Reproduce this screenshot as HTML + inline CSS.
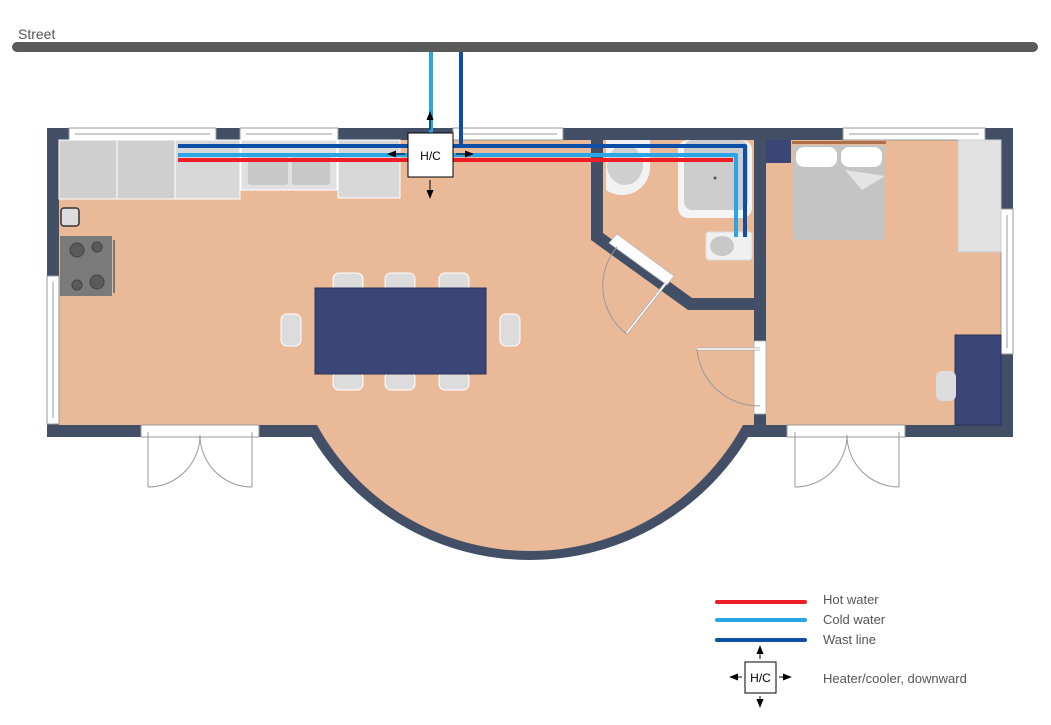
<!DOCTYPE html>
<html><head><meta charset="utf-8"><style>
html,body{margin:0;padding:0;background:#fff;width:1051px;height:725px;overflow:hidden}
text{font-family:"Liberation Sans",sans-serif}
</style></head><body>
<svg width="1051" height="725" viewBox="0 0 1051 725" xmlns="http://www.w3.org/2000/svg">
<defs>
<marker id="ah" viewBox="0 0 10 10" refX="9" refY="5" markerWidth="9" markerHeight="9" markerUnits="userSpaceOnUse" orient="auto"><path d="M0,1 L10,5 L0,9 z" fill="#000"/></marker>
</defs>
<text x="18" y="39" font-size="14" fill="#555">Street</text>
<line x1="17" y1="47" x2="1033" y2="47" stroke="#5a5a5a" stroke-width="10" stroke-linecap="round"/>
<rect x="47" y="128" width="966" height="309" fill="#424f66"/>
<path d="M305,425 A255,255 0 0 0 755,425 Z" fill="#424f66"/>
<path d="M317,425 A243,243 0 0 0 743,425 Z" fill="#e9b998"/>
<rect x="59" y="140" width="695" height="285" fill="#e9b998"/>
<rect x="766" y="140" width="235" height="285" fill="#e9b998"/>
<path d="M591,140 H603 V233 L692,298 H754 V310 H688 L591,240 Z" fill="#424f66"/>
<rect x="754" y="140" width="12" height="297" fill="#424f66"/>
<rect x="754" y="341" width="12" height="73" fill="#fff" stroke="#aaa" stroke-width="0.8"/>
<line x1="697" y1="349" x2="760" y2="349" stroke="#aaa" stroke-width="3"/>
<line x1="697" y1="349" x2="760" y2="349" stroke="#fff" stroke-width="1.6"/>
<path d="M697,349 A62,62 0 0 0 760,406" fill="none" stroke="#999" stroke-width="1"/>
<path d="M609,243 L617,234 L674,276 L667,285 Z" fill="#fff" stroke="#bbb" stroke-width="0.8"/>
<line x1="666" y1="283" x2="626" y2="334" stroke="#aaa" stroke-width="3"/>
<line x1="666" y1="283" x2="626" y2="334" stroke="#fff" stroke-width="1.5"/>
<path d="M617,247 A60,60 0 0 0 627,334" fill="none" stroke="#999" stroke-width="1"/>
<g fill="#fff" stroke="#999" stroke-width="1">
<rect x="69" y="128" width="147" height="12"/>
<rect x="240" y="128" width="98" height="12"/>
<rect x="453" y="128" width="110" height="12"/>
<rect x="843" y="128" width="142" height="12"/>
<rect x="1001" y="209" width="12" height="145"/>
<rect x="47" y="276" width="12" height="148"/>
</g>
<g stroke="#999" stroke-width="1">
<line x1="75" y1="134" x2="210" y2="134"/><line x1="246" y1="134" x2="332" y2="134"/>
<line x1="459" y1="134" x2="557" y2="134"/><line x1="849" y1="134" x2="979" y2="134"/>
<line x1="1007" y1="215" x2="1007" y2="348"/><line x1="53" y1="282" x2="53" y2="418"/>
</g>
<g fill="#fff" stroke="#999" stroke-width="1">
<rect x="141" y="425" width="118" height="12"/>
<rect x="787" y="425" width="118" height="12"/>
</g>
<g fill="none" stroke="#999" stroke-width="1">
<line x1="148" y1="432" x2="148" y2="487"/><line x1="252" y1="432" x2="252" y2="487"/>
<path d="M148,487 A52,52 0 0 0 200,435"/><path d="M252,487 A52,52 0 0 1 200,435"/>
<line x1="795" y1="432" x2="795" y2="487"/><line x1="899" y1="432" x2="899" y2="487"/>
<path d="M795,487 A52,52 0 0 0 847,435"/><path d="M899,487 A52,52 0 0 1 847,435"/>
</g>
<rect x="59" y="140" width="58" height="59" fill="#cfcfcf" stroke="#fff"/>
<rect x="117" y="140" width="58" height="59" fill="#cfcfcf" stroke="#fff"/>
<rect x="175" y="140" width="65" height="59" fill="#d8d8d8" stroke="#fff"/>
<rect x="241" y="140" width="96" height="50" fill="#e0e0e0" stroke="#fff"/>
<rect x="248" y="153" width="40" height="32" rx="3" fill="#c8c8c8"/>
<rect x="292" y="153" width="38" height="32" rx="3" fill="#c8c8c8"/>
<rect x="338" y="140" width="62" height="58" fill="#d8d8d8" stroke="#fff"/>
<rect x="61" y="208" width="18" height="18" rx="3" fill="#ddd" stroke="#333" stroke-width="1.5"/>
<rect x="60" y="236" width="52" height="60" fill="#7a7a7a"/>
<g fill="#5a5a5a" stroke="#444"><circle cx="77" cy="250" r="7"/><circle cx="97" cy="247" r="5"/><circle cx="77" cy="285" r="5"/><circle cx="97" cy="282" r="7"/></g>
<line x1="114" y1="240" x2="114" y2="293" stroke="#777" stroke-width="2"/>
<g fill="#dcdcdc" stroke="#fff">
<rect x="333" y="273" width="30" height="18" rx="6"/><rect x="385" y="273" width="30" height="18" rx="6"/><rect x="439" y="273" width="30" height="18" rx="6"/>
<rect x="333" y="372" width="30" height="18" rx="6"/><rect x="385" y="372" width="30" height="18" rx="6"/><rect x="439" y="372" width="30" height="18" rx="6"/>
<rect x="281" y="314" width="20" height="32" rx="6"/><rect x="500" y="314" width="20" height="32" rx="6"/>
</g>
<rect x="315" y="288" width="171" height="86" fill="#3a4677" stroke="#2a3355"/>
<path d="M606,140 H650 V165 A28,28 0 0 1 606,190 Z" fill="#f2f2f2"/>
<ellipse cx="625" cy="165" rx="18" ry="20" fill="#cfcfcf"/>
<rect x="678" y="140" width="74" height="78" rx="10" fill="#f4f4f4"/>
<rect x="684" y="140" width="64" height="70" rx="8" fill="#cdcdcd"/>
<circle cx="715" cy="178" r="1.5" fill="#555"/>
<rect x="706" y="232" width="46" height="28" rx="3" fill="#f0f0f0" stroke="#ddd"/>
<ellipse cx="722" cy="246" rx="12" ry="10" fill="#c8c8c8"/>
<rect x="766" y="140" width="25" height="23" fill="#3a4677"/>
<rect x="792" y="141" width="94" height="3" fill="#b0714a"/>
<rect x="793" y="145" width="92" height="95" rx="3" fill="#c4c4c4"/>
<rect x="796" y="147" width="41" height="20" rx="8" fill="#fff"/><rect x="841" y="147" width="41" height="20" rx="8" fill="#fff"/>
<path d="M793,170 H845 L862,190 L885,176 V176 L845,170" fill="#e4e4e4"/>
<rect x="958" y="140" width="43" height="112" fill="#e2e2e2" stroke="#ccc"/>
<rect x="955" y="335" width="46" height="90" fill="#3a4677" stroke="#2a3355"/>
<rect x="936" y="371" width="20" height="30" rx="6" fill="#dcdcdc"/>
<g fill="none" stroke-width="4" stroke-linejoin="round">
<polyline points="178,146 745,146 745,237" stroke="#0d4ea6"/>
<polyline points="178,155 736,155 736,237" stroke="#2aa6e8"/>
<polyline points="178,160 733,160" stroke="#ee1c25"/>
<line x1="431" y1="52" x2="431" y2="133" stroke="#2aa6e8"/>
<line x1="461" y1="52" x2="461" y2="146" stroke="#0d4ea6"/>
</g>
<rect x="408" y="133" width="45" height="44" fill="#fff" stroke="#000"/>
<text x="430.5" y="160" font-size="12" text-anchor="middle">H/C</text>
<g stroke="#000" stroke-width="1" marker-end="url(#ah)">
<line x1="405" y1="154" x2="388" y2="154"/><line x1="456" y1="154" x2="473" y2="154"/>
<line x1="430" y1="180" x2="430" y2="198"/><line x1="430" y1="130" x2="430" y2="112"/>
</g>
<g stroke-width="4" stroke-linecap="round">
<line x1="717" y1="602" x2="805" y2="602" stroke="#ee1c25"/>
<line x1="717" y1="620" x2="805" y2="620" stroke="#2aa6e8"/>
<line x1="717" y1="640" x2="805" y2="640" stroke="#0d4ea6"/>
</g>
<g font-size="13" fill="#555">
<text x="823" y="604">Hot water</text><text x="823" y="624">Cold water</text><text x="823" y="644">Wast line</text>
<text x="823" y="683">Heater/cooler, downward</text>
</g>
<rect x="745" y="662" width="31" height="31" fill="#fff" stroke="#000"/>
<text x="760.5" y="682" font-size="12" text-anchor="middle">H/C</text>
<g stroke="#000" stroke-width="1" marker-end="url(#ah)">
<line x1="742" y1="677" x2="730" y2="677"/><line x1="779" y1="677" x2="791" y2="677"/>
<line x1="760" y1="659" x2="760" y2="646"/><line x1="760" y1="696" x2="760" y2="707"/>
</g>
</svg>
</body></html>
